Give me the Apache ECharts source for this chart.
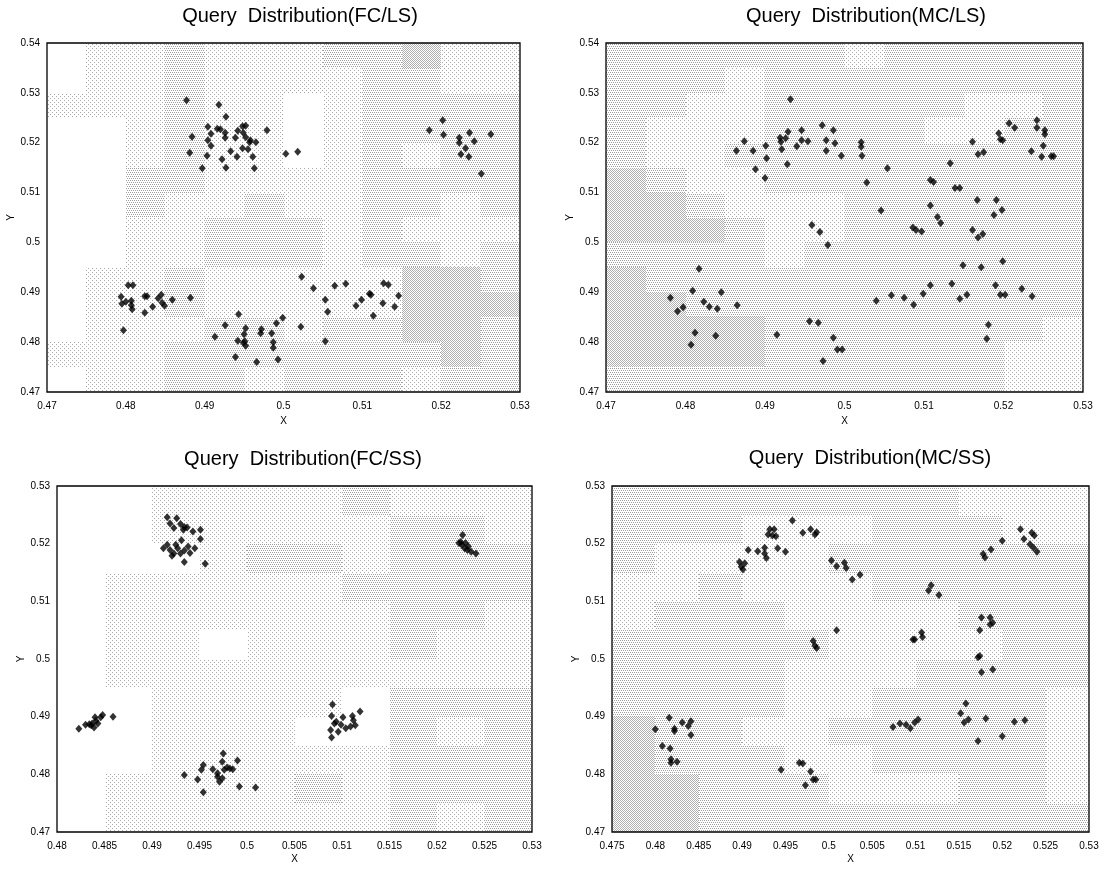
<!DOCTYPE html>
<html>
<head>
<meta charset="utf-8">
<script src="https://cdn.jsdelivr.net/npm/echarts@6/dist/echarts.min.js"></script>
<style>
html,body{margin:0;padding:0;background:#fff;}
#chart{width:1104px;height:870px;}
</style>
</head>
<body>
<div id="chart"></div>
<script>
// ---------- titles ----------
const panelTitles = [
  'Query  Distribution(FC/LS)',
  'Query  Distribution(MC/LS)',
  'Query  Distribution(FC/SS)',
  'Query  Distribution(MC/SS)'
];

// ---------- axis ranges [min, max, interval] ----------
const xRangeFCLS = [0.47, 0.53, 0.01];
const yRangeFCLS = [0.47, 0.54, 0.01];
const xRangeMCLS = [0.47, 0.53, 0.01];
const yRangeMCLS = [0.47, 0.54, 0.01];
const xRangeFCSS = [0.48, 0.53, 0.005];
const yRangeFCSS = [0.47, 0.53, 0.01];
const xRangeMCSS = [0.475, 0.53, 0.005];
const yRangeMCSS = [0.47, 0.53, 0.01];

// ---------- query points ----------
const pointsFCLS = [
  [0.4877,0.5285],[0.4918,0.5276],[0.4927,0.5252],[0.4904,0.5232],[0.4916,0.5228],[0.4920,0.5227],
  [0.4908,0.5218],[0.4926,0.5220],[0.4926,0.5210],[0.4904,0.5205],[0.4908,0.5194],[0.4884,0.5212],
  [0.4881,0.5180],[0.4903,0.5174],[0.4922,0.5167],[0.4933,0.5183],[0.4939,0.5210],[0.4941,0.5172],
  [0.4942,0.5224],[0.4948,0.5233],[0.4952,0.5234],[0.4949,0.5220],[0.4952,0.5211],[0.4948,0.5189],
  [0.4955,0.5187],[0.4957,0.5201],[0.4961,0.5172],[0.4965,0.5201],[0.4979,0.5225],[0.4897,0.5149],
  [0.4927,0.5150],[0.4963,0.5149],[0.5003,0.5178],[0.5018,0.5182],[0.4958,0.5205],
  [0.5185,0.5225],[0.5202,0.5245],[0.5203,0.5216],[0.5223,0.5210],[0.5223,0.5200],[0.5231,0.5189],
  [0.5225,0.5177],[0.5235,0.5172],[0.5236,0.5220],[0.5242,0.5203],[0.5263,0.5217],[0.5251,0.5138],
  [0.4794,0.4891],[0.4795,0.4877],[0.4800,0.4881],[0.4803,0.4914],[0.4809,0.4914],[0.4807,0.4883],
  [0.4808,0.4866],[0.4807,0.4874],[0.4797,0.4824],[0.4824,0.4892],[0.4827,0.4892],[0.4824,0.4859],
  [0.4834,0.4871],[0.4841,0.4888],[0.4845,0.4895],[0.4846,0.4879],[0.4849,0.4873],[0.4859,0.4885],
  [0.4882,0.4889],
  [0.4913,0.4811],[0.4926,0.4834],[0.4943,0.4856],[0.4939,0.4770],[0.4942,0.4803],[0.4952,0.4828],
  [0.4950,0.4816],[0.4951,0.4802],[0.4952,0.4793],[0.4949,0.4799],[0.4966,0.4760],[0.4972,0.4826],
  [0.4971,0.4818],[0.4985,0.4818],[0.4987,0.4800],[0.4987,0.4789],[0.4991,0.4838],[0.4993,0.4765],
  [0.4999,0.4849],[0.5022,0.4831],[0.5053,0.4802],
  [0.5023,0.4931],[0.5038,0.4908],[0.5065,0.4913],[0.5079,0.4917],[0.5053,0.4885],[0.5056,0.4861],
  [0.5092,0.4873],[0.5099,0.4885],[0.5109,0.4897],[0.5111,0.4895],[0.5114,0.4853],[0.5126,0.4878],
  [0.5127,0.4918],[0.5133,0.4915],[0.5141,0.4871],[0.5146,0.4893]
];

const pointsMCLS = [
  [0.4781,0.4889],[0.4790,0.4862],[0.4797,0.4870],[0.4809,0.4903],[0.4817,0.4947],[0.4812,0.4819],
  [0.4807,0.4795],[0.4823,0.4881],[0.4830,0.4871],[0.4840,0.4867],[0.4838,0.4813],[0.4845,0.4900],
  [0.4865,0.4874],
  [0.4864,0.5184],[0.4874,0.5203],[0.4885,0.5184],[0.4888,0.5147],[0.4901,0.5194],[0.4902,0.5169],
  [0.4900,0.5129],[0.4919,0.5210],[0.4920,0.5202],[0.4921,0.5187],[0.4926,0.5209],[0.4929,0.5222],
  [0.4928,0.5157],[0.4932,0.5287],[0.4940,0.5193],[0.4946,0.5225],[0.4946,0.5205],[0.4954,0.5203],
  [0.4972,0.5235],[0.4977,0.5205],[0.4977,0.5184],[0.4986,0.5225],[0.4988,0.5199],[0.4996,0.5174],
  [0.5021,0.5201],[0.5021,0.5192],[0.5022,0.5174],[0.5028,0.5120],[0.5054,0.5149],[0.5046,0.5064],
  [0.4959,0.5035],[0.4969,0.5021],[0.4979,0.4995],
  [0.4915,0.4815],[0.4956,0.4842],[0.4967,0.4839],[0.4986,0.4809],[0.4991,0.4785],[0.4997,0.4785],
  [0.4973,0.4762],
  [0.5040,0.4883],[0.5059,0.4894],[0.5075,0.4889],[0.5087,0.4875],[0.5086,0.5030],[0.5090,0.5025],
  [0.5097,0.5022],[0.5099,0.4897],[0.5108,0.5125],[0.5112,0.5121],[0.5108,0.5074],[0.5108,0.4914],
  [0.5117,0.5051],[0.5121,0.5039],[0.5133,0.5159],[0.5135,0.4917],[0.5139,0.5109],[0.5145,0.5109],
  [0.5145,0.4887],[0.5149,0.4954],[0.5154,0.4895],[0.5161,0.5202],[0.5161,0.5025],[0.5167,0.5085],
  [0.5168,0.5177],[0.5168,0.5010],[0.5172,0.4950],[0.5174,0.5017],[0.5175,0.5181],[0.5181,0.4835],
  [0.5179,0.4807],[0.5188,0.5055],[0.5191,0.5085],[0.5190,0.4914],[0.5194,0.5219],[0.5196,0.5207],
  [0.5199,0.5205],[0.5198,0.5065],[0.5199,0.4962],[0.5196,0.4895],[0.5202,0.4895],[0.5207,0.5239],
  [0.5214,0.5230],[0.5223,0.4907],[0.5235,0.5183],[0.5236,0.4892],[0.5242,0.5245],[0.5242,0.5230],
  [0.5248,0.5172],[0.5250,0.5194],[0.5252,0.5225],[0.5252,0.5217],[0.5260,0.5173],[0.5263,0.5173]
];

const pointsFCSS = [
  [0.4916,0.5246],[0.4926,0.5244],[0.4919,0.5235],[0.4923,0.5227],[0.4930,0.5234],[0.4934,0.5229],
  [0.4933,0.5224],[0.4937,0.5228],[0.4943,0.5221],[0.4951,0.5224],[0.4951,0.5208],[0.4931,0.5206],
  [0.4912,0.5192],[0.4916,0.5198],[0.4919,0.5189],[0.4921,0.5179],[0.4927,0.5192],[0.4930,0.5183],
  [0.4934,0.5188],[0.4938,0.5195],[0.4940,0.5184],[0.4945,0.5192],[0.4934,0.5168],[0.4956,0.5165],
  [0.4925,0.5198],[0.4923,0.5183],
  [0.5227,0.5215],[0.5223,0.5201],[0.5226,0.5198],[0.5229,0.5192],[0.5232,0.5189],[0.5236,0.5186],
  [0.5241,0.5183],[0.5225,0.5203],[0.5230,0.5201],[0.5233,0.5195],
  [0.4823,0.4879],[0.4830,0.4886],[0.4834,0.4887],[0.4837,0.4888],[0.4839,0.4881],[0.4841,0.4893],
  [0.4843,0.4888],[0.4846,0.4899],[0.4848,0.4903],[0.4840,0.4899],[0.4859,0.4900],[0.4836,0.4885],
  [0.4934,0.4799],[0.4948,0.4791],[0.4952,0.4808],[0.4954,0.4816],[0.4954,0.4769],[0.4964,0.4809],
  [0.4969,0.4796],[0.4971,0.4787],[0.4975,0.4836],[0.4974,0.4822],[0.4976,0.4808],[0.4974,0.4793],
  [0.4979,0.4812],[0.4982,0.4810],[0.4985,0.4809],[0.4990,0.4824],[0.4992,0.4779],[0.5009,0.4777],
  [0.4969,0.4802],
  [0.5090,0.4921],[0.5089,0.4901],[0.5092,0.4888],[0.5088,0.4877],[0.5089,0.4864],[0.5096,0.4874],
  [0.5094,0.4891],[0.5101,0.4899],[0.5104,0.4880],[0.5109,0.4883],[0.5111,0.4901],[0.5114,0.4885],
  [0.5119,0.4909],[0.5112,0.4894],[0.5099,0.4886]
];

const pointsMCSS = [
  [0.4800,0.4878],[0.4808,0.4849],[0.4816,0.4898],[0.4817,0.4845],[0.4818,0.4826],[0.4818,0.4820],
  [0.4822,0.4875],[0.4822,0.4879],[0.4825,0.4822],[0.4831,0.4890],[0.4838,0.4884],[0.4841,0.4892],
  [0.4841,0.4868],
  [0.4897,0.5168],[0.4899,0.5160],[0.4901,0.5155],[0.4903,0.5166],[0.4907,0.5189],[0.4918,0.5187],
  [0.4926,0.5193],[0.4926,0.5183],[0.4928,0.5175],[0.4930,0.5216],[0.4932,0.5225],[0.4935,0.5214],
  [0.4937,0.5225],[0.4939,0.5213],[0.4941,0.5192],[0.4950,0.5186],[0.4958,0.5240],[0.4970,0.5219],
  [0.4979,0.5225],[0.4984,0.5216],[0.4986,0.5220],
  [0.4945,0.4808],[0.4966,0.4820],[0.4970,0.4819],[0.4979,0.4805],[0.4973,0.4781],[0.4982,0.4791],
  [0.4985,0.4791],
  [0.4982,0.5031],[0.4984,0.5023],[0.4986,0.5019],
  [0.5003,0.5171],[0.5009,0.5161],[0.5018,0.5167],[0.5020,0.5158],[0.5027,0.5138],[0.5036,0.5146],
  [0.5009,0.5050],
  [0.5074,0.4882],[0.5082,0.4888],[0.5089,0.4886],[0.5094,0.4880],[0.5099,0.4890],[0.5103,0.4895],
  [0.5097,0.5034],[0.5099,0.5034],[0.5107,0.5046],[0.5108,0.5038],
  [0.5115,0.5119],[0.5118,0.5128],[0.5127,0.5111],
  [0.5152,0.4906],[0.5156,0.4890],[0.5158,0.4923],[0.5161,0.4895],[0.5172,0.4858],[0.5172,0.5003],
  [0.5174,0.5005],[0.5176,0.5072],[0.5174,0.5050],[0.5176,0.4977],[0.5178,0.5182],[0.5180,0.5176],
  [0.5181,0.4897],[0.5186,0.5072],[0.5186,0.5060],[0.5187,0.5190],[0.5189,0.4982],[0.5189,0.5063],
  [0.5200,0.5205],[0.5200,0.4866],[0.5214,0.4891],[0.5221,0.5225],[0.5225,0.5208],[0.5226,0.4894],
  [0.5232,0.5199],[0.5234,0.5219],[0.5237,0.5214],[0.5236,0.5193],[0.5240,0.5186]
];

// ---------- background data-density shading (rows top->bottom, 0.005 cells, level 0-3) ----------
const densityFCLS = [
  '011211122311','011211112211','111211012222','001211012222','001211012122','002211112222',
  '002112112212','001122212111','001122212212','011211111332','011211111333','011122122332',
  '111222222232','011221222122'
];
const densityMCLS = [
  '222222122222','222122222222','221122222112','211122221122','211222222222','321122222222',
  '332111222222','333211222222','222212222222','322222222222','332222222222','333322222221',
  '333322222211','222222222211'
];
const densityFCSS = [
  '0011112111','0011111221','0001221222','0111112222','0111111221','0110111211',
  '0111111111','0011110222','0011100212','0011111222','0111121222','0111111212'
];
const densityMCSS = [
  '22222222111','22211122211','21111222222','11211122222','12221111222','22222111122',
  '22221112222','22221122221','32211222221','32221122221','33222111221','33222222222'
];
const densityCell = 0.005;

// dithered dot textures per density level
function makeDots(size, dots, color) {
  const c = document.createElement('canvas');
  c.width = size; c.height = size;
  const g = c.getContext('2d');
  g.fillStyle = '#ffffff'; g.fillRect(0, 0, size, size);
  g.fillStyle = color;
  dots.forEach(d => g.fillRect(d[0], d[1], 1, 1));
  return {image: c, repeat: 'repeat'};
}
const shadeFills = [
  '#ffffff',
  makeDots(4, [[0,0],[2,2]], '#a8a8a8'),
  makeDots(4, [[0,0],[2,0],[1,2],[3,2]], '#a0a0a0'),
  makeDots(2, [[0,0],[1,1]], '#b0b0b0')
];

// ---------- layout ----------
const grids = [
  {left: 47,  top: 43,  width: 473, height: 349},
  {left: 606, top: 43,  width: 477, height: 349},
  {left: 57,  top: 486, width: 475, height: 346},
  {left: 612, top: 486, width: 477, height: 346}
];
const titlePos = [[300, 6], [866, 6], [303, 449], [870, 448]];
const xNameGap = [24, 24, 22, 22];
const yNameGap = [30, 30, 30, 30];

const panels = [
  {x: xRangeFCLS, y: yRangeFCLS, pts: pointsFCLS, dens: densityFCLS},
  {x: xRangeMCLS, y: yRangeMCLS, pts: pointsMCLS, dens: densityMCLS},
  {x: xRangeFCSS, y: yRangeFCSS, pts: pointsFCSS, dens: densityFCSS},
  {x: xRangeMCSS, y: yRangeMCSS, pts: pointsMCSS, dens: densityMCSS}
];

const FONT = 'Liberation Sans, Arial, sans-serif';
const fmt = v => String(+v.toFixed(3));

const option = {
  backgroundColor: '#ffffff',
  animation: false,
  title: panelTitles.map((t, i) => ({
    text: t, left: titlePos[i][0], top: titlePos[i][1], textAlign: 'center', padding: 0,
    textStyle: {fontFamily: FONT, fontSize: 20, fontWeight: 'normal', color: '#000'}
  })),
  grid: grids.map(g => Object.assign({
    show: true, z: 3, borderColor: '#000', borderWidth: 1.3, backgroundColor: 'transparent',
    containLabel: false, outerBoundsMode: 'none'
  }, g)),
  xAxis: panels.map((p, i) => ({
    type: 'value', gridIndex: i, min: p.x[0], max: p.x[1], interval: p.x[2],
    name: 'X', nameLocation: 'middle', nameGap: xNameGap[i],
    nameTextStyle: {fontFamily: FONT, fontSize: 10, color: '#000'},
    axisLine: {show: false}, axisTick: {show: false}, splitLine: {show: false},
    axisLabel: {fontFamily: FONT, fontSize: 10, color: '#000', margin: 9, formatter: fmt,
      showMinLabel: true, showMaxLabel: true, hideOverlap: false}
  })),
  yAxis: panels.map((p, i) => ({
    type: 'value', gridIndex: i, min: p.y[0], max: p.y[1], interval: p.y[2],
    name: 'Y', nameLocation: 'middle', nameGap: yNameGap[i],
    nameTextStyle: {fontFamily: FONT, fontSize: 10, color: '#000'},
    axisLine: {show: false}, axisTick: {show: false}, splitLine: {show: false},
    axisLabel: {fontFamily: FONT, fontSize: 10, color: '#000', margin: 7, formatter: fmt,
      showMinLabel: true, showMaxLabel: true, hideOverlap: false}
  })),
  series: []
};

panels.forEach((p, i) => {
  const cells = [];
  p.dens.forEach((row, r) => {
    for (let c = 0; c < row.length; c++) {
      const lvl = +row[c];
      if (lvl > 0) cells.push([p.x[0] + c * densityCell, p.y[1] - (r + 1) * densityCell, lvl]);
    }
  });
  option.series.push({
    type: 'custom', xAxisIndex: i, yAxisIndex: i, z: 1, silent: true, clip: true,
    encode: {x: 0, y: 1},
    data: cells,
    renderItem: (params, api) => {
      const x0 = api.value(0), y0 = api.value(1);
      const a = api.coord([x0, y0 + densityCell]);
      const b = api.coord([x0 + densityCell, y0]);
      const L = Math.round(a[0]), T = Math.round(a[1]);
      return {
        type: 'rect',
        shape: {x: L, y: T, width: Math.round(b[0]) - L, height: Math.round(b[1]) - T},
        style: {fill: shadeFills[api.value(2)]}
      };
    }
  });
  option.series.push({
    type: 'scatter', xAxisIndex: i, yAxisIndex: i, z: 5,
    symbol: 'diamond', symbolSize: [7, 8],
    itemStyle: {color: '#000'},
    data: p.pts
  });
});

const chart = echarts.init(document.getElementById('chart'), null, {renderer: 'canvas'});
chart.setOption(option);
</script>
</body>
</html>
